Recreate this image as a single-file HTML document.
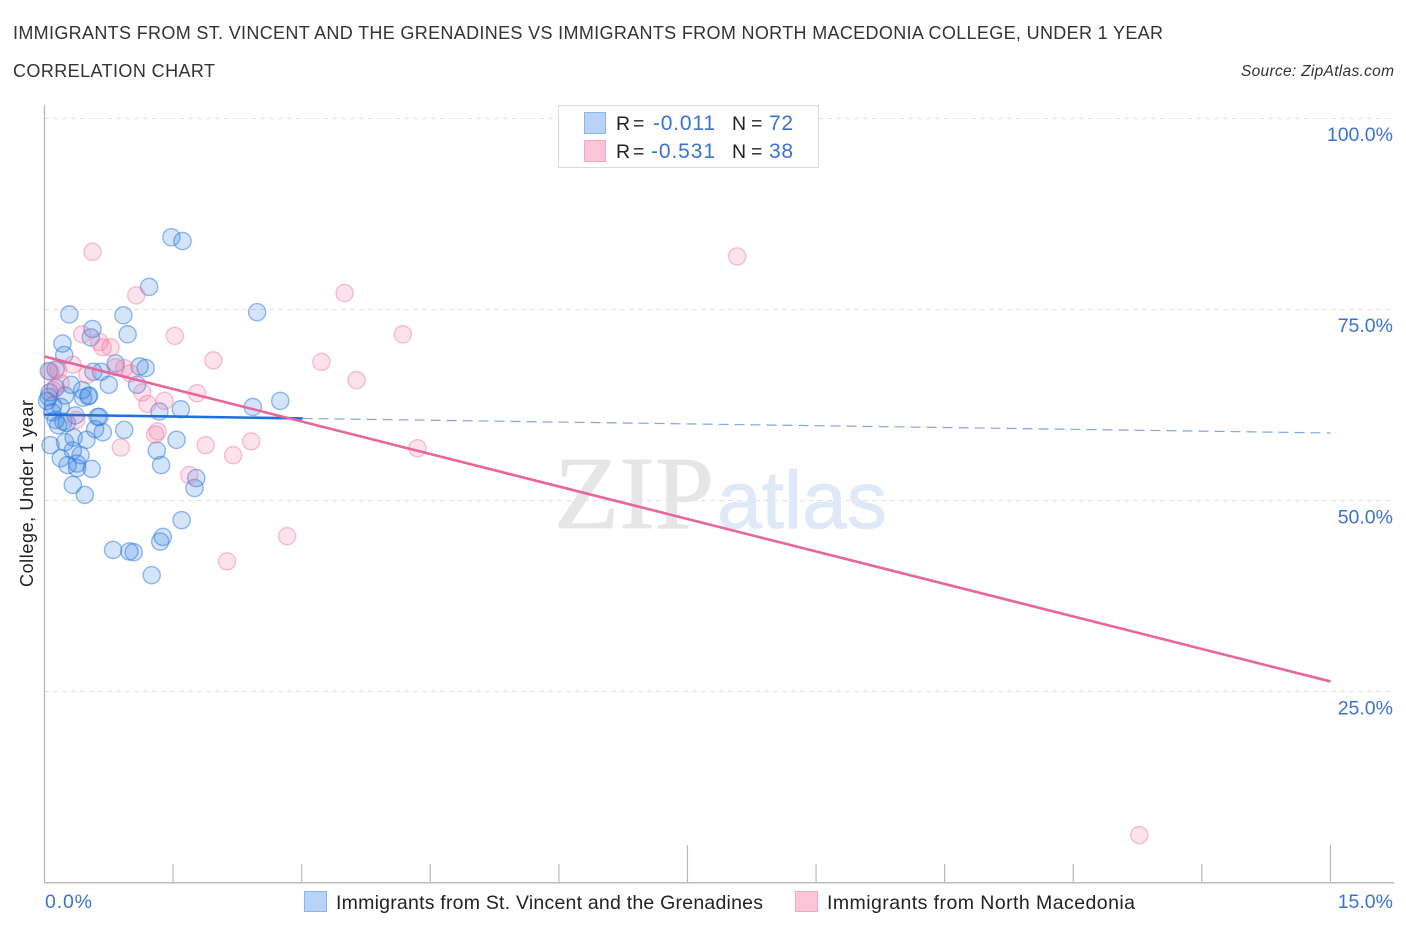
<!DOCTYPE html>
<html>
<head>
<meta charset="utf-8">
<title>Correlation Chart</title>
<style>
html,body{margin:0;padding:0;background:#fff;width:1406px;height:930px;overflow:hidden}
svg{display:block;font-family:"Liberation Sans",sans-serif}
</style>
</head>
<body>
<svg id="chart" width="1406" height="930" viewBox="0 0 1406 930" xmlns="http://www.w3.org/2000/svg">
  <rect x="0" y="0" width="1406" height="930" fill="#ffffff"/>
  <text x="13" y="39" font-size="18" fill="#333" textLength="1150" lengthAdjust="spacing">IMMIGRANTS FROM ST. VINCENT AND THE GRENADINES VS IMMIGRANTS FROM NORTH MACEDONIA COLLEGE, UNDER 1 YEAR</text>
  <text x="13" y="77" font-size="18" fill="#333" textLength="202" lengthAdjust="spacing">CORRELATION CHART</text>
  <text x="1241" y="76" font-size="15.5" font-style="italic" fill="#333" textLength="153" lengthAdjust="spacing">Source: ZipAtlas.com</text>
  <g id="grid"></g>
  <g>
    <text x="554" y="528" font-family="'Liberation Serif',serif" font-size="104" fill="#e6e6e6" stroke="#e6e6e6" stroke-width="0.8" textLength="160" lengthAdjust="spacingAndGlyphs">ZIP</text>
    <text x="717" y="528" font-size="82" fill="#dfe9f8" stroke="#dfe9f8" stroke-width="0.8" textLength="170" lengthAdjust="spacingAndGlyphs">atlas</text>
  </g>
  <g id="axes"></g>
  <g id="points-blue"></g>
  <g id="points-pink"></g>
  <g id="lines"></g>
  <g id="labels"></g>
  <text x="0" y="0" transform="translate(33 587) rotate(-90)" font-size="18" fill="#222" textLength="187" lengthAdjust="spacing">College, Under 1 year</text>

  <g>
    <rect x="558.5" y="105.5" width="260" height="62" fill="#fff" stroke="#dcdcdc" stroke-width="1"/>
    <rect x="584.5" y="112.5" width="21" height="21" fill="#b9d3f8" stroke="#8ab4ee" stroke-width="1"/>
    <rect x="584.5" y="140.5" width="21" height="21" fill="#fcc5d8" stroke="#f3a6c0" stroke-width="1"/>
    <text y="130" font-size="19.5" fill="#222"><tspan x="616">R</tspan><tspan x="633">=</tspan></text>
    <text x="653" y="130" font-size="21" fill="#3b73d1" textLength="62" lengthAdjust="spacing">-0.011</text>
    <text y="130" font-size="19.5" fill="#222"><tspan x="732">N</tspan><tspan x="751">=</tspan></text>
    <text x="769" y="130" font-size="21" fill="#3b73d1" textLength="24" lengthAdjust="spacing">72</text>
    <text y="158" font-size="19.5" fill="#222"><tspan x="616">R</tspan><tspan x="633">=</tspan></text>
    <text x="651" y="158" font-size="21" fill="#3b73d1" textLength="64" lengthAdjust="spacing">-0.531</text>
    <text y="158" font-size="19.5" fill="#222"><tspan x="732">N</tspan><tspan x="751">=</tspan></text>
    <text x="769" y="158" font-size="21" fill="#3b73d1" textLength="24" lengthAdjust="spacing">38</text>
  </g>

  <g>
    <rect x="304.5" y="891.5" width="22" height="20" fill="#b9d3f8" stroke="#8ab4ee" stroke-width="1"/>
    <text x="336" y="909" font-size="19.5" fill="#222" textLength="427" lengthAdjust="spacing">Immigrants from St. Vincent and the Grenadines</text>
    <rect x="795.5" y="891.5" width="22" height="20" fill="#fcc5d8" stroke="#f3a6c0" stroke-width="1"/>
    <text x="827" y="909" font-size="19.5" fill="#222" textLength="308" lengthAdjust="spacing">Immigrants from North Macedonia</text>
  </g>
</svg>
<script>
const blueX = [1.48,1.61,1.22,0.29,0.92,2.48,0.97,0.56,0.54,0.21,0.23,0.83,1.11,1.18,0.57,0.66,0.75,1.08,0.13,0.05,0.31,0.44,0.52,0.45,0.24,0.13,0.05,0.10,0.19,0.36,0.62,0.64,1.34,1.59,2.43,2.75,0.93,0.13,0.26,0.16,0.59,0.68,0.49,0.34,0.24,0.07,0.33,0.42,0.19,0.27,0.38,0.38,0.55,0.33,0.47,1.54,1.31,1.36,1.77,1.75,1.60,1.38,1.35,0.80,0.99,1.04,1.25,0.03,0.09,0.06,0.22,0.51];
const blueY = [84.4,83.9,77.9,74.3,74.2,74.6,71.7,72.4,71.3,70.5,69.0,67.9,67.5,67.3,66.8,66.8,65.1,65.1,67.1,66.9,65.1,64.4,63.7,63.4,63.7,64.7,63.5,62.4,62.2,61.1,60.9,60.9,61.6,61.9,62.2,63.0,59.2,60.5,60.1,59.8,59.3,58.9,57.9,58.2,57.6,57.2,56.5,55.9,55.5,54.6,54.8,54.2,54.1,52.0,50.7,57.9,56.5,54.6,52.9,51.6,47.4,45.2,44.6,43.5,43.3,43.2,40.2,63.0,61.5,64.1,60.3,63.6];
const pinkX = [0.56,1.07,1.52,1.97,0.44,0.64,0.68,0.77,0.33,0.83,0.93,1.00,0.50,0.16,0.07,0.19,0.10,1.14,1.40,1.78,1.20,8.08,3.50,4.18,3.23,3.64,4.35,2.83,2.13,12.77,2.41,2.20,1.88,1.29,1.32,0.89,1.69,0.37];
const pinkY = [82.5,76.8,71.5,68.3,71.7,70.7,70.0,70.0,67.7,67.4,67.3,66.6,66.4,67.0,66.8,65.3,64.4,64.1,63.0,64.0,62.6,81.9,77.1,71.7,68.1,65.7,56.8,45.3,42.0,6.2,57.7,55.9,57.2,58.6,59.0,56.9,53.3,60.5];
const blueTrendX = [0, 3.01, 15];
const blueTrendY = [61.2, 60.7, 58.8];
const pinkTrendX = [0, 15];
const pinkTrendY = [68.8, 26.3];
const yTicks = [25, 50, 75, 100];
const yTickLabels = ["25.0%", "50.0%", "75.0%", "100.0%"];
const xTicks = [1.5, 3, 4.5, 6, 7.5, 9, 10.5, 12, 13.5, 15];
const xTallTicks = [7.5, 15];
const xEndLabels = ["0.0%", "15.0%"];

const NS = "http://www.w3.org/2000/svg";
function sx(v) { return 44.5 + v * 85.73; }
function sy(v) { return 882.5 - v * 7.645; }
function mk(tag, parent, attrs) {
  const el = document.createElementNS(NS, tag);
  for (const k in attrs) el.setAttribute(k, attrs[k]);
  parent.appendChild(el);
  return el;
}

const grid = document.getElementById("grid");
yTicks.forEach(function (t) {
  const gy = Math.floor(sy(t)) + 0.5;
  const el = mk("line", grid, {x1: 44, x2: 1393, y1: gy, y2: gy, stroke: "#e2e2e2", "stroke-width": 1, "stroke-dasharray": "5 4"});
  
  
});

const axes = document.getElementById("axes");
const yAxis = mk("line", axes, {x1: 44.5, x2: 44.5, y1: 105, y2: 883, stroke: "#b4b4b4", "stroke-width": 1.3});


const xAxis = mk("line", axes, {x1: 44, x2: 1394, y1: 882.7, y2: 882.7, stroke: "#bdbdbd", "stroke-width": 1.5});


xTicks.forEach(function (t) {
  const tall = xTallTicks.indexOf(t) >= 0;
  const el = mk("line", axes, {x1: sx(t), x2: sx(t), y1: tall ? 845 : 864, y2: 882, stroke: "#b8b8b8", "stroke-width": 1.2});
  
  
});

function drawPoints(id, xs, ys, fill, stroke, strokeOp) {
  const g = document.getElementById(id);
  xs.forEach(function (x, i) {
    const c = mk("circle", g, {cx: sx(x), cy: sy(ys[i]), r: 8.6, fill: fill, "fill-opacity": 0.2, stroke: stroke, "stroke-opacity": strokeOp, "stroke-width": 1.4});
    
    
  });
}
drawPoints("points-blue", blueX, blueY, "#2f7ce0", "#2b78de", 0.5);
drawPoints("points-pink", pinkX, pinkY, "#f2709e", "#ee6f9c", 0.42);

const lines = document.getElementById("lines");
const blueSolid = mk("line", lines, {x1: sx(blueTrendX[0]), y1: sy(blueTrendY[0]), x2: sx(blueTrendX[1]), y2: sy(blueTrendY[1]), stroke: "#1f6fdc", "stroke-width": 2.6});


const blueDash = mk("line", lines, {x1: sx(blueTrendX[1]), y1: sy(blueTrendY[1]), x2: sx(blueTrendX[2]), y2: sy(blueTrendY[2]), stroke: "#7fa8dc", "stroke-width": 1.2, "stroke-dasharray": "10 6"});


const pinkLine = mk("line", lines, {x1: sx(pinkTrendX[0]), y1: sy(pinkTrendY[0]), x2: sx(pinkTrendX[1]), y2: sy(pinkTrendY[1]), stroke: "#e8669a", "stroke-width": 2.6});



const labels = document.getElementById("labels");
yTicks.forEach(function (t, i) {
  const el = mk("text", labels, {x: 1393, y: sy(t) + 23, "text-anchor": "end", "font-size": 19.5, fill: "#3b73d1"});
  el.textContent = yTickLabels[i];
  
  
});
const xLeft = mk("text", labels, {x: 45, y: 908, "font-size": 19.5, fill: "#3b73d1", textLength: 47, lengthAdjust: "spacing"});
xLeft.textContent = xEndLabels[0];


const xRight = mk("text", labels, {x: 1393, y: 908, "text-anchor": "end", "font-size": 19.5, fill: "#3b73d1"});
xRight.textContent = xEndLabels[1];


</script>
</body>
</html>
